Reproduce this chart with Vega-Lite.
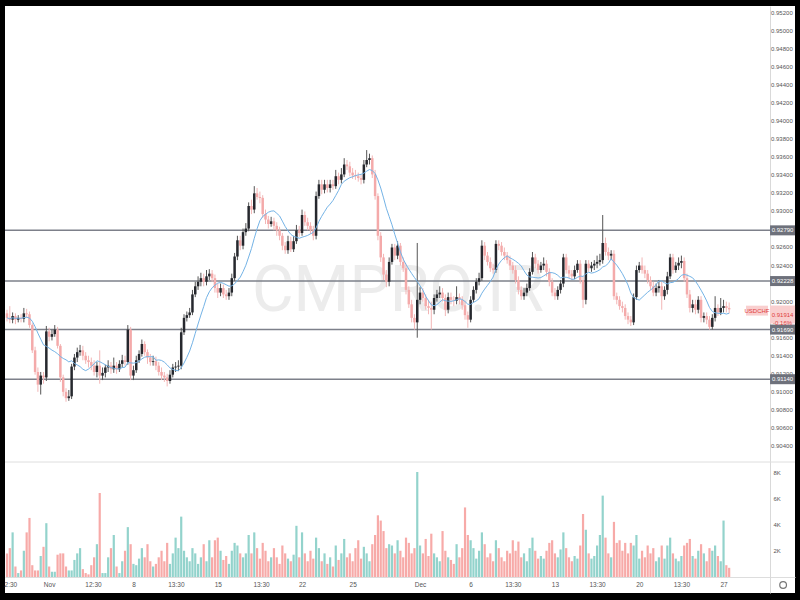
{
"$schema":"https://vega.github.io/schema/vega-lite/v6.json",
"width":790,"height":587,"autosize":"none",
"padding":{"left":5,"top":6,"right":5,"bottom":7},
"background":"#000000",
"config":{"view":{"stroke":null,"fill":"#ffffff"},"axis":{"labelFont":"Liberation Sans","grid":false,"ticks":false,"title":null},"scale":{"continuousPadding":0}},
"datasets":{
"ticks":[{"p":0.904},{"p":0.906},{"p":0.908},{"p":0.91},{"p":0.912},{"p":0.914},{"p":0.916},{"p":0.92},{"p":0.924},{"p":0.926},{"p":0.93},{"p":0.932},{"p":0.934},{"p":0.936},{"p":0.938},{"p":0.94},{"p":0.942},{"p":0.944},{"p":0.946},{"p":0.948},{"p":0.95},{"p":0.952}],
"levels":[{"p":0.9279,"t":"0.92790"},{"p":0.92228,"t":"0.92228"},{"p":0.9169,"t":"0.91690"},{"p":0.9114,"t":"0.91140"}],
"candles":[
{"i":0,"o":0.9187,"h":0.9191,"l":0.9178,"c":0.9182,"v":1800},
{"i":1,"o":0.9182,"h":0.9195,"l":0.9176,"c":0.9180,"v":2200},
{"i":2,"o":0.9180,"h":0.9188,"l":0.9176,"c":0.9184,"v":3400},
{"i":3,"o":0.9184,"h":0.9187,"l":0.9175,"c":0.9180,"v":800},
{"i":4,"o":0.9180,"h":0.9185,"l":0.9177,"c":0.9182,"v":300},
{"i":5,"o":0.9182,"h":0.9186,"l":0.9177,"c":0.9181,"v":500},
{"i":6,"o":0.9181,"h":0.9193,"l":0.9177,"c":0.9187,"v":2000},
{"i":7,"o":0.9187,"h":0.9192,"l":0.9182,"c":0.9186,"v":3400},
{"i":8,"o":0.9186,"h":0.9189,"l":0.9171,"c":0.9174,"v":4500},
{"i":9,"o":0.9174,"h":0.9176,"l":0.9143,"c":0.9146,"v":900},
{"i":10,"o":0.9146,"h":0.9150,"l":0.9119,"c":0.9122,"v":500},
{"i":11,"o":0.9122,"h":0.9127,"l":0.9100,"c":0.9108,"v":500},
{"i":12,"o":0.9108,"h":0.9122,"l":0.9097,"c":0.9118,"v":1600},
{"i":13,"o":0.9118,"h":0.9122,"l":0.9109,"c":0.9116,"v":2300},
{"i":14,"o":0.9116,"h":0.9173,"l":0.9112,"c":0.9167,"v":4100},
{"i":15,"o":0.9167,"h":0.9171,"l":0.9156,"c":0.9161,"v":800},
{"i":16,"o":0.9161,"h":0.9169,"l":0.9157,"c":0.9164,"v":400},
{"i":17,"o":0.9164,"h":0.9174,"l":0.9161,"c":0.9169,"v":400},
{"i":18,"o":0.9169,"h":0.9172,"l":0.9148,"c":0.9151,"v":1700},
{"i":19,"o":0.9151,"h":0.9153,"l":0.9111,"c":0.9116,"v":1800},
{"i":20,"o":0.9116,"h":0.9119,"l":0.9095,"c":0.9100,"v":1800},
{"i":21,"o":0.9100,"h":0.9104,"l":0.9089,"c":0.9093,"v":800},
{"i":22,"o":0.9093,"h":0.9102,"l":0.9090,"c":0.9095,"v":500},
{"i":23,"o":0.9095,"h":0.9131,"l":0.9092,"c":0.9128,"v":500},
{"i":24,"o":0.9128,"h":0.9142,"l":0.9124,"c":0.9138,"v":1300},
{"i":25,"o":0.9138,"h":0.9149,"l":0.9133,"c":0.9144,"v":1800},
{"i":26,"o":0.9144,"h":0.9152,"l":0.9140,"c":0.9146,"v":2200},
{"i":27,"o":0.9146,"h":0.9151,"l":0.9135,"c":0.9140,"v":600},
{"i":28,"o":0.9140,"h":0.9144,"l":0.9131,"c":0.9135,"v":300},
{"i":29,"o":0.9135,"h":0.9140,"l":0.9127,"c":0.9133,"v":200},
{"i":30,"o":0.9133,"h":0.9138,"l":0.9124,"c":0.9129,"v":900},
{"i":31,"o":0.9129,"h":0.9135,"l":0.9118,"c":0.9122,"v":1500},
{"i":32,"o":0.9122,"h":0.9133,"l":0.9116,"c":0.9129,"v":2500},
{"i":33,"o":0.9129,"h":0.9146,"l":0.9109,"c":0.9118,"v":6400},
{"i":34,"o":0.9118,"h":0.9127,"l":0.9113,"c":0.9121,"v":300},
{"i":35,"o":0.9121,"h":0.9130,"l":0.9116,"c":0.9127,"v":300},
{"i":36,"o":0.9127,"h":0.9135,"l":0.9122,"c":0.9129,"v":1500},
{"i":37,"o":0.9129,"h":0.9133,"l":0.9120,"c":0.9125,"v":2200},
{"i":38,"o":0.9125,"h":0.9138,"l":0.9121,"c":0.9129,"v":3200},
{"i":39,"o":0.9129,"h":0.9133,"l":0.9120,"c":0.9125,"v":800},
{"i":40,"o":0.9125,"h":0.9135,"l":0.9122,"c":0.9131,"v":300},
{"i":41,"o":0.9131,"h":0.9141,"l":0.9127,"c":0.9135,"v":1200},
{"i":42,"o":0.9135,"h":0.9140,"l":0.9129,"c":0.9133,"v":2000},
{"i":43,"o":0.9133,"h":0.9174,"l":0.9130,"c":0.9169,"v":3800},
{"i":44,"o":0.9169,"h":0.9172,"l":0.9113,"c":0.9118,"v":2500},
{"i":45,"o":0.9118,"h":0.9129,"l":0.9113,"c":0.9124,"v":1000},
{"i":46,"o":0.9124,"h":0.9140,"l":0.9121,"c":0.9135,"v":900},
{"i":47,"o":0.9135,"h":0.9146,"l":0.9132,"c":0.9142,"v":1400},
{"i":48,"o":0.9142,"h":0.9158,"l":0.9139,"c":0.9153,"v":2200},
{"i":49,"o":0.9153,"h":0.9156,"l":0.9140,"c":0.9144,"v":1500},
{"i":50,"o":0.9144,"h":0.9147,"l":0.9131,"c":0.9138,"v":2500},
{"i":51,"o":0.9138,"h":0.9142,"l":0.9129,"c":0.9133,"v":1200},
{"i":52,"o":0.9133,"h":0.9140,"l":0.9129,"c":0.9134,"v":800},
{"i":53,"o":0.9134,"h":0.9139,"l":0.9124,"c":0.9129,"v":1000},
{"i":54,"o":0.9129,"h":0.9133,"l":0.9118,"c":0.9122,"v":1500},
{"i":55,"o":0.9122,"h":0.9127,"l":0.9113,"c":0.9118,"v":2000},
{"i":56,"o":0.9118,"h":0.9122,"l":0.9111,"c":0.9116,"v":1200},
{"i":57,"o":0.9116,"h":0.9120,"l":0.9106,"c":0.9112,"v":2600},
{"i":58,"o":0.9112,"h":0.9124,"l":0.9109,"c":0.9119,"v":1000},
{"i":59,"o":0.9119,"h":0.9131,"l":0.9116,"c":0.9127,"v":1800},
{"i":60,"o":0.9127,"h":0.9133,"l":0.9122,"c":0.9128,"v":3000},
{"i":61,"o":0.9128,"h":0.9135,"l":0.9123,"c":0.9129,"v":2200},
{"i":62,"o":0.9129,"h":0.9171,"l":0.9125,"c":0.9166,"v":4600},
{"i":63,"o":0.9166,"h":0.9186,"l":0.9163,"c":0.9182,"v":2000},
{"i":64,"o":0.9182,"h":0.9189,"l":0.9178,"c":0.9185,"v":1500},
{"i":65,"o":0.9185,"h":0.9193,"l":0.9182,"c":0.9188,"v":1200},
{"i":66,"o":0.9188,"h":0.9213,"l":0.9185,"c":0.9208,"v":2200},
{"i":67,"o":0.9208,"h":0.9222,"l":0.9205,"c":0.9217,"v":1800},
{"i":68,"o":0.9217,"h":0.9228,"l":0.9213,"c":0.9222,"v":1000},
{"i":69,"o":0.9222,"h":0.9232,"l":0.9217,"c":0.9226,"v":1500},
{"i":70,"o":0.9226,"h":0.9231,"l":0.9217,"c":0.9222,"v":2500},
{"i":71,"o":0.9222,"h":0.9235,"l":0.9218,"c":0.9228,"v":1200},
{"i":72,"o":0.9228,"h":0.9236,"l":0.9224,"c":0.9231,"v":2800},
{"i":73,"o":0.9231,"h":0.9235,"l":0.9222,"c":0.9226,"v":1500},
{"i":74,"o":0.9226,"h":0.9230,"l":0.9210,"c":0.9215,"v":2800},
{"i":75,"o":0.9215,"h":0.9220,"l":0.9204,"c":0.9210,"v":3000},
{"i":76,"o":0.9210,"h":0.9220,"l":0.9206,"c":0.9215,"v":2000},
{"i":77,"o":0.9215,"h":0.9219,"l":0.9204,"c":0.9208,"v":1300},
{"i":78,"o":0.9208,"h":0.9213,"l":0.9202,"c":0.9206,"v":1600},
{"i":79,"o":0.9206,"h":0.9215,"l":0.9202,"c":0.9210,"v":1000},
{"i":80,"o":0.9210,"h":0.9231,"l":0.9206,"c":0.9226,"v":2000},
{"i":81,"o":0.9226,"h":0.9254,"l":0.9223,"c":0.9250,"v":2600},
{"i":82,"o":0.9250,"h":0.9273,"l":0.9246,"c":0.9268,"v":2400},
{"i":83,"o":0.9268,"h":0.9273,"l":0.9257,"c":0.9262,"v":1800},
{"i":84,"o":0.9262,"h":0.9281,"l":0.9258,"c":0.9277,"v":1500},
{"i":85,"o":0.9277,"h":0.9287,"l":0.9273,"c":0.9281,"v":1800},
{"i":86,"o":0.9281,"h":0.9310,"l":0.9278,"c":0.9306,"v":3200},
{"i":87,"o":0.9306,"h":0.9313,"l":0.9297,"c":0.9302,"v":1800},
{"i":88,"o":0.9302,"h":0.9328,"l":0.9298,"c":0.9320,"v":3400},
{"i":89,"o":0.9320,"h":0.9326,"l":0.9313,"c":0.9316,"v":2200},
{"i":90,"o":0.9316,"h":0.9322,"l":0.9309,"c":0.9315,"v":1400},
{"i":91,"o":0.9315,"h":0.9318,"l":0.9293,"c":0.9297,"v":2600},
{"i":92,"o":0.9297,"h":0.9302,"l":0.9286,"c":0.9291,"v":2000},
{"i":93,"o":0.9291,"h":0.9295,"l":0.9281,"c":0.9286,"v":1200},
{"i":94,"o":0.9286,"h":0.9294,"l":0.9283,"c":0.9289,"v":1500},
{"i":95,"o":0.9289,"h":0.9293,"l":0.9279,"c":0.9284,"v":2200},
{"i":96,"o":0.9284,"h":0.9288,"l":0.9273,"c":0.9279,"v":1500},
{"i":97,"o":0.9279,"h":0.9283,"l":0.9268,"c":0.9273,"v":1000},
{"i":98,"o":0.9273,"h":0.9276,"l":0.9257,"c":0.9262,"v":2400},
{"i":99,"o":0.9262,"h":0.9266,"l":0.9253,"c":0.9257,"v":1800},
{"i":100,"o":0.9257,"h":0.9273,"l":0.9253,"c":0.9267,"v":1400},
{"i":101,"o":0.9267,"h":0.9272,"l":0.9255,"c":0.9258,"v":1200},
{"i":102,"o":0.9258,"h":0.9273,"l":0.9255,"c":0.9267,"v":1700},
{"i":103,"o":0.9267,"h":0.9285,"l":0.9264,"c":0.9279,"v":3900},
{"i":104,"o":0.9279,"h":0.9284,"l":0.9272,"c":0.9276,"v":1500},
{"i":105,"o":0.9276,"h":0.9302,"l":0.9273,"c":0.9296,"v":3400},
{"i":106,"o":0.9296,"h":0.9300,"l":0.9284,"c":0.9288,"v":1800},
{"i":107,"o":0.9288,"h":0.9293,"l":0.9279,"c":0.9284,"v":1200},
{"i":108,"o":0.9284,"h":0.9288,"l":0.9275,"c":0.9279,"v":2000},
{"i":109,"o":0.9279,"h":0.9284,"l":0.9268,"c":0.9273,"v":1400},
{"i":110,"o":0.9273,"h":0.9322,"l":0.9269,"c":0.9317,"v":3000},
{"i":111,"o":0.9317,"h":0.9335,"l":0.9314,"c":0.9330,"v":2200},
{"i":112,"o":0.9330,"h":0.9335,"l":0.9319,"c":0.9324,"v":1200},
{"i":113,"o":0.9324,"h":0.9335,"l":0.9320,"c":0.9330,"v":1800},
{"i":114,"o":0.9330,"h":0.9335,"l":0.9321,"c":0.9326,"v":1000},
{"i":115,"o":0.9326,"h":0.9335,"l":0.9321,"c":0.9330,"v":1500},
{"i":116,"o":0.9330,"h":0.9335,"l":0.9324,"c":0.9328,"v":800},
{"i":117,"o":0.9328,"h":0.9346,"l":0.9325,"c":0.9339,"v":2400},
{"i":118,"o":0.9339,"h":0.9343,"l":0.9330,"c":0.9335,"v":1300},
{"i":119,"o":0.9335,"h":0.9348,"l":0.9331,"c":0.9341,"v":1800},
{"i":120,"o":0.9341,"h":0.9359,"l":0.9338,"c":0.9352,"v":2900},
{"i":121,"o":0.9352,"h":0.9357,"l":0.9346,"c":0.9350,"v":1500},
{"i":122,"o":0.9350,"h":0.9355,"l":0.9339,"c":0.9343,"v":1800},
{"i":123,"o":0.9343,"h":0.9348,"l":0.9336,"c":0.9340,"v":1200},
{"i":124,"o":0.9340,"h":0.9346,"l":0.9335,"c":0.9339,"v":2200},
{"i":125,"o":0.9339,"h":0.9343,"l":0.9333,"c":0.9337,"v":2800},
{"i":126,"o":0.9337,"h":0.9341,"l":0.9330,"c":0.9335,"v":1400},
{"i":127,"o":0.9335,"h":0.9357,"l":0.9331,"c":0.9352,"v":2300},
{"i":128,"o":0.9352,"h":0.9368,"l":0.9349,"c":0.9357,"v":1800},
{"i":129,"o":0.9357,"h":0.9364,"l":0.9352,"c":0.9359,"v":1200},
{"i":130,"o":0.9359,"h":0.9362,"l":0.9337,"c":0.9341,"v":2500},
{"i":131,"o":0.9341,"h":0.9346,"l":0.9313,"c":0.9317,"v":3200},
{"i":132,"o":0.9317,"h":0.9320,"l":0.9268,"c":0.9273,"v":4700},
{"i":133,"o":0.9273,"h":0.9277,"l":0.9244,"c":0.9249,"v":4300},
{"i":134,"o":0.9249,"h":0.9253,"l":0.9224,"c":0.9230,"v":3500},
{"i":135,"o":0.9230,"h":0.9235,"l":0.9216,"c":0.9222,"v":2200},
{"i":136,"o":0.9222,"h":0.9249,"l":0.9217,"c":0.9244,"v":2500},
{"i":137,"o":0.9244,"h":0.9264,"l":0.9241,"c":0.9260,"v":2400},
{"i":138,"o":0.9260,"h":0.9264,"l":0.9246,"c":0.9251,"v":1800},
{"i":139,"o":0.9251,"h":0.9267,"l":0.9247,"c":0.9262,"v":2800},
{"i":140,"o":0.9262,"h":0.9265,"l":0.9240,"c":0.9244,"v":2000},
{"i":141,"o":0.9244,"h":0.9249,"l":0.9233,"c":0.9237,"v":1500},
{"i":142,"o":0.9237,"h":0.9242,"l":0.9208,"c":0.9213,"v":3000},
{"i":143,"o":0.9213,"h":0.9217,"l":0.9193,"c":0.9197,"v":2600},
{"i":144,"o":0.9197,"h":0.9202,"l":0.9177,"c":0.9182,"v":1800},
{"i":145,"o":0.9182,"h":0.9186,"l":0.9169,"c":0.9177,"v":2200},
{"i":146,"o":0.9177,"h":0.9265,"l":0.9160,"c":0.9202,"v":8000},
{"i":147,"o":0.9202,"h":0.9216,"l":0.9197,"c":0.9210,"v":2400},
{"i":148,"o":0.9210,"h":0.9215,"l":0.9200,"c":0.9204,"v":1800},
{"i":149,"o":0.9204,"h":0.9208,"l":0.9191,"c":0.9195,"v":2900},
{"i":150,"o":0.9195,"h":0.9202,"l":0.9186,"c":0.9193,"v":1600},
{"i":151,"o":0.9193,"h":0.9200,"l":0.9169,"c":0.9191,"v":3300},
{"i":152,"o":0.9191,"h":0.9208,"l":0.9186,"c":0.9204,"v":1800},
{"i":153,"o":0.9204,"h":0.9213,"l":0.9200,"c":0.9208,"v":1500},
{"i":154,"o":0.9208,"h":0.9217,"l":0.9204,"c":0.9210,"v":1200},
{"i":155,"o":0.9210,"h":0.9215,"l":0.9200,"c":0.9204,"v":3500},
{"i":156,"o":0.9204,"h":0.9208,"l":0.9184,"c":0.9191,"v":2000},
{"i":157,"o":0.9191,"h":0.9210,"l":0.9187,"c":0.9205,"v":1500},
{"i":158,"o":0.9205,"h":0.9210,"l":0.9197,"c":0.9202,"v":1300},
{"i":159,"o":0.9202,"h":0.9206,"l":0.9195,"c":0.9201,"v":1000},
{"i":160,"o":0.9201,"h":0.9217,"l":0.9197,"c":0.9205,"v":2500},
{"i":161,"o":0.9205,"h":0.9209,"l":0.9197,"c":0.9202,"v":1500},
{"i":162,"o":0.9202,"h":0.9206,"l":0.9191,"c":0.9196,"v":2200},
{"i":163,"o":0.9196,"h":0.9201,"l":0.9180,"c":0.9185,"v":5300},
{"i":164,"o":0.9185,"h":0.9189,"l":0.9171,"c":0.9180,"v":3200},
{"i":165,"o":0.9180,"h":0.9206,"l":0.9177,"c":0.9202,"v":2800},
{"i":166,"o":0.9202,"h":0.9217,"l":0.9199,"c":0.9213,"v":2200},
{"i":167,"o":0.9213,"h":0.9226,"l":0.9209,"c":0.9222,"v":1400},
{"i":168,"o":0.9222,"h":0.9232,"l":0.9218,"c":0.9226,"v":2000},
{"i":169,"o":0.9226,"h":0.9268,"l":0.9223,"c":0.9262,"v":3400},
{"i":170,"o":0.9262,"h":0.9266,"l":0.9246,"c":0.9251,"v":2500},
{"i":171,"o":0.9251,"h":0.9255,"l":0.9240,"c":0.9244,"v":1500},
{"i":172,"o":0.9244,"h":0.9249,"l":0.9233,"c":0.9237,"v":1800},
{"i":173,"o":0.9237,"h":0.9242,"l":0.9231,"c":0.9235,"v":1200},
{"i":174,"o":0.9235,"h":0.9268,"l":0.9232,"c":0.9264,"v":2800},
{"i":175,"o":0.9264,"h":0.9268,"l":0.9257,"c":0.9262,"v":2200},
{"i":176,"o":0.9262,"h":0.9266,"l":0.9251,"c":0.9255,"v":1500},
{"i":177,"o":0.9255,"h":0.9260,"l":0.9246,"c":0.9251,"v":1200},
{"i":178,"o":0.9251,"h":0.9255,"l":0.9242,"c":0.9246,"v":2000},
{"i":179,"o":0.9246,"h":0.9251,"l":0.9235,"c":0.9240,"v":1800},
{"i":180,"o":0.9240,"h":0.9244,"l":0.9231,"c":0.9235,"v":2800},
{"i":181,"o":0.9235,"h":0.9240,"l":0.9220,"c":0.9224,"v":2000},
{"i":182,"o":0.9224,"h":0.9228,"l":0.9208,"c":0.9213,"v":2700},
{"i":183,"o":0.9213,"h":0.9217,"l":0.9202,"c":0.9206,"v":1500},
{"i":184,"o":0.9206,"h":0.9215,"l":0.9202,"c":0.9210,"v":1800},
{"i":185,"o":0.9210,"h":0.9220,"l":0.9206,"c":0.9215,"v":1200},
{"i":186,"o":0.9215,"h":0.9237,"l":0.9212,"c":0.9233,"v":2200},
{"i":187,"o":0.9233,"h":0.9255,"l":0.9230,"c":0.9249,"v":3000},
{"i":188,"o":0.9249,"h":0.9253,"l":0.9237,"c":0.9242,"v":2000},
{"i":189,"o":0.9242,"h":0.9246,"l":0.9231,"c":0.9235,"v":1400},
{"i":190,"o":0.9235,"h":0.9244,"l":0.9232,"c":0.9240,"v":1600},
{"i":191,"o":0.9240,"h":0.9249,"l":0.9235,"c":0.9242,"v":1400},
{"i":192,"o":0.9242,"h":0.9246,"l":0.9228,"c":0.9233,"v":2000},
{"i":193,"o":0.9233,"h":0.9237,"l":0.9217,"c":0.9222,"v":2600},
{"i":194,"o":0.9222,"h":0.9226,"l":0.9206,"c":0.9210,"v":2800},
{"i":195,"o":0.9210,"h":0.9215,"l":0.9202,"c":0.9206,"v":1800},
{"i":196,"o":0.9206,"h":0.9217,"l":0.9202,"c":0.9213,"v":1500},
{"i":197,"o":0.9213,"h":0.9224,"l":0.9209,"c":0.9220,"v":2100},
{"i":198,"o":0.9220,"h":0.9253,"l":0.9216,"c":0.9249,"v":3400},
{"i":199,"o":0.9249,"h":0.9253,"l":0.9231,"c":0.9235,"v":2200},
{"i":200,"o":0.9235,"h":0.9240,"l":0.9226,"c":0.9231,"v":1500},
{"i":201,"o":0.9231,"h":0.9235,"l":0.9224,"c":0.9228,"v":1200},
{"i":202,"o":0.9228,"h":0.9240,"l":0.9225,"c":0.9235,"v":1600},
{"i":203,"o":0.9235,"h":0.9246,"l":0.9232,"c":0.9242,"v":1400},
{"i":204,"o":0.9242,"h":0.9246,"l":0.9220,"c":0.9224,"v":2400},
{"i":205,"o":0.9224,"h":0.9228,"l":0.9193,"c":0.9202,"v":4800},
{"i":206,"o":0.9202,"h":0.9246,"l":0.9197,"c":0.9242,"v":3600},
{"i":207,"o":0.9242,"h":0.9246,"l":0.9233,"c":0.9237,"v":1800},
{"i":208,"o":0.9237,"h":0.9244,"l":0.9233,"c":0.9240,"v":1400},
{"i":209,"o":0.9240,"h":0.9246,"l":0.9235,"c":0.9242,"v":1600},
{"i":210,"o":0.9242,"h":0.9251,"l":0.9237,"c":0.9244,"v":2400},
{"i":211,"o":0.9244,"h":0.9253,"l":0.9240,"c":0.9246,"v":3200},
{"i":212,"o":0.9246,"h":0.9296,"l":0.9242,"c":0.9265,"v":6200},
{"i":213,"o":0.9265,"h":0.9271,"l":0.9251,"c":0.9255,"v":3000},
{"i":214,"o":0.9255,"h":0.9260,"l":0.9246,"c":0.9251,"v":1800},
{"i":215,"o":0.9251,"h":0.9257,"l":0.9246,"c":0.9253,"v":1500},
{"i":216,"o":0.9253,"h":0.9257,"l":0.9202,"c":0.9206,"v":4200},
{"i":217,"o":0.9206,"h":0.9210,"l":0.9197,"c":0.9202,"v":2600},
{"i":218,"o":0.9202,"h":0.9206,"l":0.9191,"c":0.9195,"v":2800},
{"i":219,"o":0.9195,"h":0.9200,"l":0.9188,"c":0.9193,"v":2000},
{"i":220,"o":0.9193,"h":0.9197,"l":0.9180,"c":0.9184,"v":2600},
{"i":221,"o":0.9184,"h":0.9188,"l":0.9175,"c":0.9180,"v":1800},
{"i":222,"o":0.9180,"h":0.9184,"l":0.9173,"c":0.9177,"v":2600},
{"i":223,"o":0.9177,"h":0.9209,"l":0.9174,"c":0.9205,"v":2400},
{"i":224,"o":0.9205,"h":0.9240,"l":0.9202,"c":0.9235,"v":3200},
{"i":225,"o":0.9235,"h":0.9244,"l":0.9232,"c":0.9240,"v":1400},
{"i":226,"o":0.9240,"h":0.9249,"l":0.9231,"c":0.9235,"v":2000},
{"i":227,"o":0.9235,"h":0.9240,"l":0.9226,"c":0.9231,"v":1500},
{"i":228,"o":0.9231,"h":0.9235,"l":0.9220,"c":0.9224,"v":2400},
{"i":229,"o":0.9224,"h":0.9228,"l":0.9213,"c":0.9217,"v":1800},
{"i":230,"o":0.9217,"h":0.9222,"l":0.9206,"c":0.9210,"v":2200},
{"i":231,"o":0.9210,"h":0.9220,"l":0.9206,"c":0.9215,"v":1200},
{"i":232,"o":0.9215,"h":0.9224,"l":0.9210,"c":0.9217,"v":1500},
{"i":233,"o":0.9217,"h":0.9222,"l":0.9191,"c":0.9206,"v":2400},
{"i":234,"o":0.9206,"h":0.9217,"l":0.9202,"c":0.9213,"v":1400},
{"i":235,"o":0.9213,"h":0.9233,"l":0.9208,"c":0.9228,"v":2400},
{"i":236,"o":0.9228,"h":0.9253,"l":0.9225,"c":0.9249,"v":3000},
{"i":237,"o":0.9249,"h":0.9253,"l":0.9231,"c":0.9235,"v":1800},
{"i":238,"o":0.9235,"h":0.9244,"l":0.9232,"c":0.9240,"v":1400},
{"i":239,"o":0.9240,"h":0.9249,"l":0.9235,"c":0.9243,"v":1200},
{"i":240,"o":0.9243,"h":0.9251,"l":0.9237,"c":0.9245,"v":1600},
{"i":241,"o":0.9245,"h":0.9249,"l":0.9222,"c":0.9226,"v":2400},
{"i":242,"o":0.9226,"h":0.9231,"l":0.9204,"c":0.9208,"v":2600},
{"i":243,"o":0.9208,"h":0.9213,"l":0.9188,"c":0.9193,"v":2900},
{"i":244,"o":0.9193,"h":0.9202,"l":0.9188,"c":0.9197,"v":1600},
{"i":245,"o":0.9197,"h":0.9202,"l":0.9186,"c":0.9191,"v":1400},
{"i":246,"o":0.9191,"h":0.9206,"l":0.9187,"c":0.9202,"v":2000},
{"i":247,"o":0.9202,"h":0.9206,"l":0.9177,"c":0.9182,"v":2500},
{"i":248,"o":0.9182,"h":0.9188,"l":0.9177,"c":0.9184,"v":1800},
{"i":249,"o":0.9184,"h":0.9188,"l":0.9175,"c":0.9180,"v":1200},
{"i":250,"o":0.9180,"h":0.9184,"l":0.9169,"c":0.9172,"v":2200},
{"i":251,"o":0.9172,"h":0.9186,"l":0.9169,"c":0.9182,"v":2000},
{"i":252,"o":0.9182,"h":0.9206,"l":0.9178,"c":0.9193,"v":2400},
{"i":253,"o":0.9193,"h":0.9197,"l":0.9184,"c":0.9188,"v":1600},
{"i":254,"o":0.9188,"h":0.9204,"l":0.9185,"c":0.9193,"v":1200},
{"i":255,"o":0.9193,"h":0.9202,"l":0.9188,"c":0.9195,"v":4300},
{"i":256,"o":0.9195,"h":0.9200,"l":0.9188,"c":0.9193,"v":900},
{"i":257,"o":0.9193,"h":0.9199,"l":0.9187,"c":0.91914,"v":700}
]},
"layer":[
{"layer":[
 {"data":{"values":[{}]},"mark":{"type":"rule","color":"#dedede","strokeWidth":1},
  "encoding":{"y":{"datum":0.90222,"type":"quantitative","scale":{"domain":[0.8877,0.95277],"nice":false,"zero":false,"padding":0}}}},
 {"data":{"values":[{}]},"mark":{"type":"text","text":"CMPRO.IR","font":"Roboto","fontSize":64,"color":"#ececec","align":"center","baseline":"middle"},
  "encoding":{"x":{"datum":139.1,"type":"quantitative","scale":{"domain":[-0.71,280.43],"nice":false,"zero":false,"padding":0}},
   "y":{"datum":0.92107,"type":"quantitative"}}},
 {"data":{"name":"levels"},"mark":{"type":"rule","color":"#7d808a","strokeWidth":1.5},
  "encoding":{"y":{"field":"p","type":"quantitative","title":null}}},
 {"data":{"name":"candles"},"mark":{"type":"rule","strokeWidth":1},
  "encoding":{"x":{"field":"i","type":"quantitative","title":null},
   "y":{"field":"l","type":"quantitative","title":null,
    "axis":{"orient":"right","offset":-25,"labels":false,"domainColor":"#d9d9d9","title":null}},
   "y2":{"field":"h"},
   "color":{"condition":{"test":"datum.c >= datum.o","value":"#555555"},"value":"#f2b6b6"}}},
 {"data":{"name":"candles"},"mark":{"type":"bar","size":2.5},
  "encoding":{"x":{"field":"i","type":"quantitative","title":null},
   "y":{"field":"o","type":"quantitative","title":null},"y2":{"field":"c"},
   "color":{"condition":{"test":"datum.c >= datum.o","value":"#26282e"},"value":"#f4aaaa"}}},
 {"data":{"name":"candles"},"transform":[{"window":[{"op":"mean","field":"c","as":"ma"}],"frame":[-9,0],"sort":[{"field":"i"}]}],
  "mark":{"type":"line","color":"#74b3e6","strokeWidth":1},
  "encoding":{"x":{"field":"i","type":"quantitative","title":null},"y":{"field":"ma","type":"quantitative","title":null}}},
 {"data":{"name":"ticks"},"mark":{"type":"text","font":"Liberation Sans","fontSize":6,"color":"#555555","align":"left","baseline":"middle"},
  "encoding":{"x":{"datum":271.9,"type":"quantitative"},"y":{"field":"p","type":"quantitative","title":null},"text":{"field":"p","format":".5f"}}},
 {"data":{"name":"levels"},"mark":{"type":"point","shape":"M-1,-0.4H1V0.4H-1Z","filled":true,"size":625,"opacity":1,"color":"#6e717b"},
  "encoding":{"x":{"datum":276,"type":"quantitative"},"y":{"field":"p","type":"quantitative","title":null}}},
 {"data":{"name":"levels"},"mark":{"type":"text","font":"Liberation Sans","fontSize":6,"color":"#ffffff","align":"center","baseline":"middle"},
  "encoding":{"x":{"datum":276,"type":"quantitative"},"y":{"field":"p","type":"quantitative","title":null},"text":{"field":"t"}}},
 {"data":{"values":[{}]},"mark":{"type":"point","shape":"M-1,-0.72H1V0.72H-1Z","filled":true,"size":625,"opacity":1,"color":"#f9cfcf"},
  "encoding":{"x":{"datum":276,"type":"quantitative"},"y":{"datum":0.91857,"type":"quantitative"}}},
 {"data":{"values":[{}]},"mark":{"type":"text","text":"0.91914\n-0.16%","lineBreak":"\n","lineHeight":8,"font":"Liberation Sans","fontSize":6,"color":"#e0403c","align":"center","baseline":"middle"},
  "encoding":{"x":{"datum":276,"type":"quantitative"},"y":{"datum":0.91857,"type":"quantitative"}}},
 {"data":{"values":[{}]},"mark":{"type":"point","shape":"M-1,-0.45H1V0.45H-1Z","filled":true,"size":484,"opacity":1,"color":"#f9cfcf"},
  "encoding":{"x":{"datum":266.9,"type":"quantitative"},"y":{"datum":0.9190,"type":"quantitative"}}},
 {"data":{"values":[{}]},"mark":{"type":"text","text":"USDCHF","font":"Liberation Sans","fontSize":6,"color":"#e0403c","align":"center","baseline":"middle"},
  "encoding":{"x":{"datum":266.9,"type":"quantitative"},"y":{"datum":0.9190,"type":"quantitative"}}},
 {"data":{"values":[{}]},"mark":{"type":"point","shape":"circle","filled":false,"size":45,"strokeWidth":1.2,"color":"#777777","opacity":1},
  "encoding":{"x":{"datum":276.2,"type":"quantitative"},"y":{"datum":0.88859,"type":"quantitative"}}}
]},
{"data":{"name":"candles"},"mark":{"type":"bar","size":2.2},
 "encoding":{"x":{"field":"i","type":"quantitative","title":null,"scale":{"domain":[-0.71,280.43],"nice":false,"zero":false,"padding":0},
   "axis":{"orient":"bottom","offset":-16,"values":[1.2,15,30.6,45,60.1,75,90.4,105,123,147,165,180,195,210,225,240,255],
    "labelExpr":"datum.value==1.2?'2:30':datum.value==15?'Nov':datum.value==30.6?'12:30':datum.value==45?'8':datum.value==60.1?'13:30':datum.value==75?'15':datum.value==90.4?'13:30':datum.value==105?'22':datum.value==123?'25':datum.value==147?'Dec':datum.value==165?'6':datum.value==180?'13:30':datum.value==195?'13':datum.value==210?'13:30':datum.value==225?'20':datum.value==240?'13:30':'27'",
    "labelPadding":4,"labelFontSize":6.5,"labelColor":"#555555","domainColor":"#dddddd","labelFlush":false,"labelOverlap":false,"title":null}},
  "y":{"field":"v","type":"quantitative","title":null,"scale":{"domain":[-1219,43505],"nice":false,"zero":false,"padding":0},
   "axis":{"orient":"right","offset":-25,"values":[2000,4000,6000,8000],"labelExpr":"(datum.value/1000)+'K'","domain":false,"labelPadding":3,"labelFontSize":6,"labelColor":"#555555","labelAlign":"left","labelBaseline":"middle","title":null}},
  "color":{"condition":{"test":"datum.c >= datum.o","value":"#93d3cc"},"value":"#f7aaa8"}}}
],
"resolve":{"scale":{"y":"independent"},"axis":{"y":"independent"}}
}
